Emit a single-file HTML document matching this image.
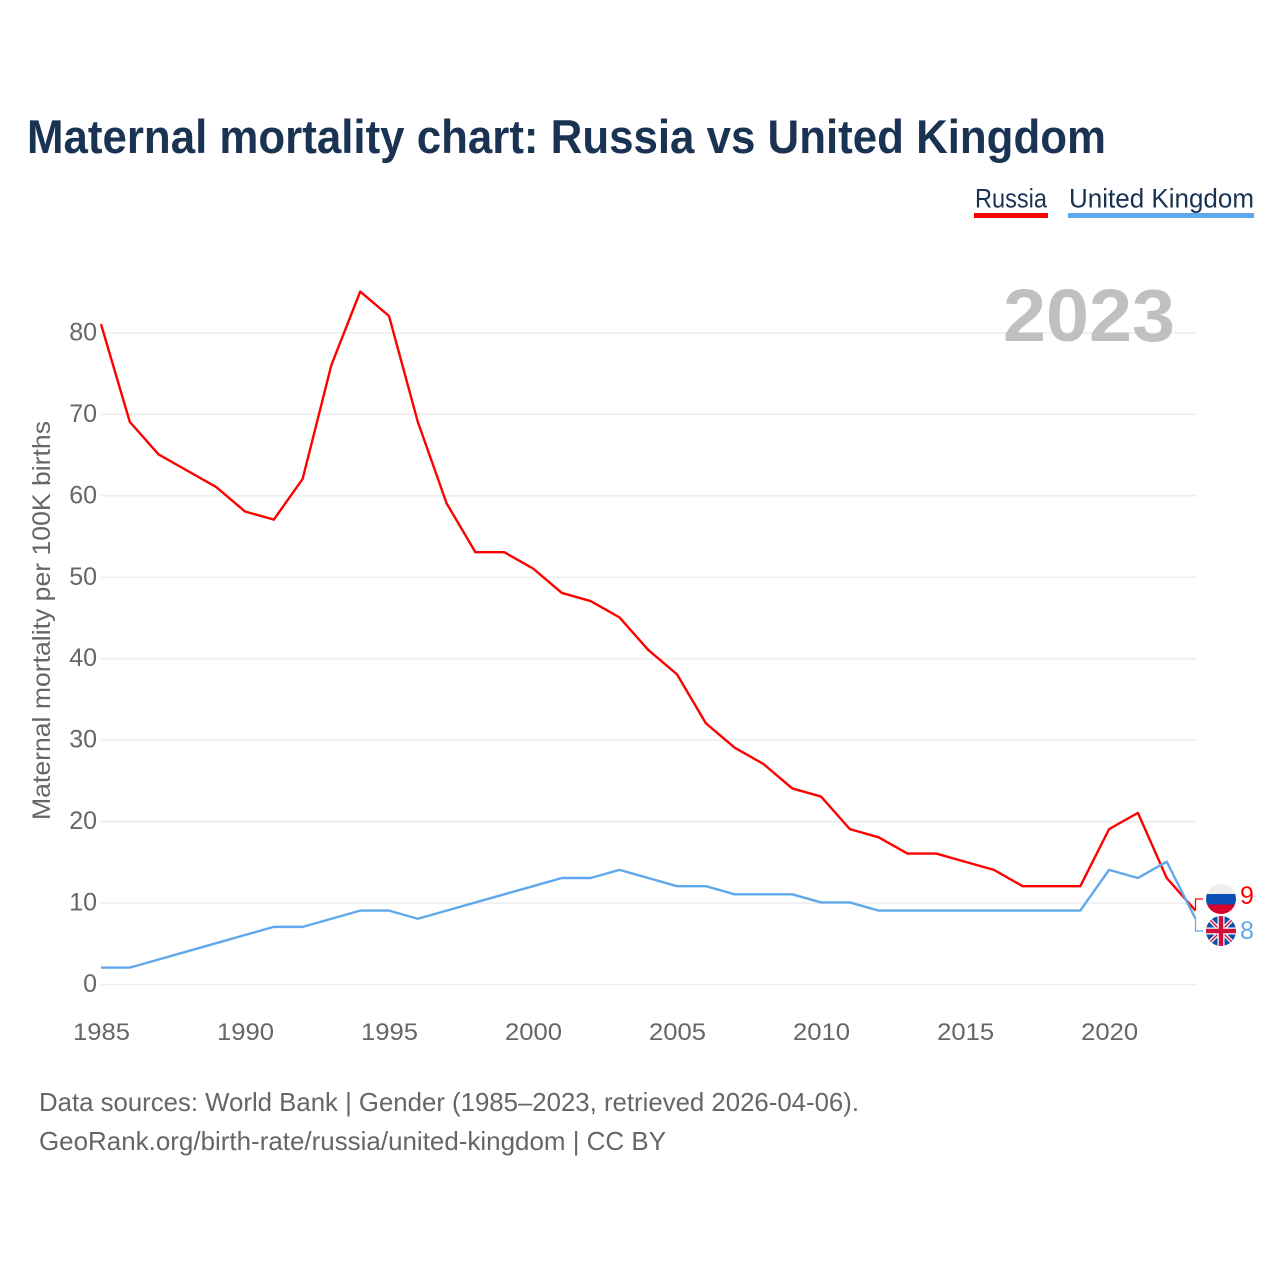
<!DOCTYPE html>
<html>
<head>
<meta charset="utf-8">
<title>Maternal mortality chart: Russia vs United Kingdom</title>
<style>
html,body{margin:0;padding:0;background:#fff;width:1280px;height:1280px;overflow:hidden}
svg{display:block;font-family:"Liberation Sans",sans-serif}
</style>
</head>
<body>
<svg id="chart" width="1280" height="1280" viewBox="0 0 1280 1280" xmlns="http://www.w3.org/2000/svg">
  <defs>
    <clipPath id="clip-ru"><circle cx="1221" cy="899" r="15"/></clipPath>
    <clipPath id="clip-uk"><circle cx="1221" cy="931" r="15"/></clipPath>
  </defs>
  <rect width="1280" height="1280" fill="#fff"/>
  <text x="27" y="153" font-size="47" font-weight="700" fill="#1a3353" textLength="1079" lengthAdjust="spacingAndGlyphs">Maternal mortality chart: Russia vs United Kingdom</text>

  <g>
    <text x="975" y="207.5" font-size="27" fill="#1a3353" textLength="72" lengthAdjust="spacingAndGlyphs">Russia</text>
    <rect x="974" y="213" width="74" height="5" fill="#ff0000"/>
  </g>
  <g>
    <text x="1069" y="207.5" font-size="27" fill="#1a3353" textLength="185" lengthAdjust="spacingAndGlyphs">United Kingdom</text>
    <rect x="1068" y="213" width="186" height="5" fill="#5fa8ec"/>
  </g>

  <g id="grid"></g>
  <g id="yticks"></g>
  <g id="xticks"></g>

  <text transform="translate(50,820) rotate(-90)" font-size="25" fill="#666" textLength="399" lengthAdjust="spacingAndGlyphs">Maternal mortality per 100K births</text>
  <text x="1003" y="341" font-size="74" font-weight="700" fill="#c0c0c0" textLength="172" lengthAdjust="spacingAndGlyphs">2023</text>

  <path id="line-russia" fill="none" stroke="#ff0000" stroke-width="2.4" stroke-linejoin="round"/>
  <path id="line-uk" fill="none" stroke="#5fa8ec" stroke-width="2.4" stroke-linejoin="round"/>
  <path id="connector-russia" fill="none" stroke="#ff0000" stroke-width="1.2"/>
  <path id="connector-uk" fill="none" stroke="#5fa8ec" stroke-width="1.2"/>

  <g clip-path="url(#clip-ru)">
    <rect x="1206" y="884" width="30" height="10" fill="#eeeeee"/>
    <rect x="1206" y="894" width="30" height="10.5" fill="#0a50b4"/>
    <rect x="1206" y="904.5" width="30" height="10" fill="#d9002b"/>
  </g>
  <g clip-path="url(#clip-uk)">
    <rect x="1206" y="916" width="30" height="30" fill="#0a50a8"/>
    <path d="M1206 916L1236 946M1236 916L1206 946" stroke="#fff" stroke-width="4"/>
    <path d="M1206 916L1236 946M1236 916L1206 946" stroke="#d0103a" stroke-width="1.5"/>
    <path d="M1221 916V946M1206 931H1236" stroke="#fff" stroke-width="7"/>
    <path d="M1221 916V946M1206 931H1236" stroke="#d0103a" stroke-width="4.5"/>
  </g>
  <text id="value-russia" x="1240" y="904" font-size="25" fill="#ff0000"></text>
  <text id="value-uk" x="1240" y="939" font-size="25" fill="#5fa8ec"></text>

  <text x="39" y="1111" font-size="26" fill="#666" textLength="820" lengthAdjust="spacingAndGlyphs">Data sources: World Bank | Gender (1985–2023, retrieved 2026-04-06).</text>
  <text x="39" y="1150" font-size="26" fill="#666" textLength="627" lengthAdjust="spacingAndGlyphs">GeoRank.org/birth-rate/russia/united-kingdom | CC BY</text>
</svg>
<script>
const years = [1985,1986,1987,1988,1989,1990,1991,1992,1993,1994,1995,1996,1997,1998,1999,2000,2001,2002,2003,2004,2005,2006,2007,2008,2009,2010,2011,2012,2013,2014,2015,2016,2017,2018,2019,2020,2021,2022,2023];
const russiaValues = [81,69,65,63,61,58,57,62,76,85,82,69,59,53,53,51,48,47,45,41,38,32,29,27,24,23,19,18,16,16,15,14,12,12,12,19,21,13,9];
const ukValues = [2,2,3,4,5,6,7,7,8,9,9,8,9,10,11,12,13,13,14,13,12,12,11,11,11,10,10,9,9,9,9,9,9,9,9,14,13,15,8];
const yTickValues = [0,10,20,30,40,50,60,70,80];
const xTickValues = [1985,1990,1995,2000,2005,2010,2015,2020];

const NS = 'http://www.w3.org/2000/svg';
function xScale(year){ return 101 + (year - 1985) * (1195.5 - 101) / 38; }
function yScale(value){ return 984.5 - value * 8.145; }
function lineY(value){ return yScale(value) - 0.6; }
function linePath(values){
  return values.map(function(v, i){
    return (i ? 'L' : 'M') + xScale(years[i]).toFixed(2) + ' ' + lineY(v).toFixed(2);
  }).join('');
}

const grid = document.getElementById('grid');
const yTicks = document.getElementById('yticks');
const xTicks = document.getElementById('xticks');

yTickValues.forEach(function(v){
  const line = document.createElementNS(NS, 'line');
  
  
  line.setAttribute('x1', 101);
  line.setAttribute('x2', 1196);
  line.setAttribute('y1', yScale(v));
  line.setAttribute('y2', yScale(v));
  line.setAttribute('stroke', '#eeeeee');
  line.setAttribute('stroke-width', 1.6);
  grid.appendChild(line);

  const label = document.createElementNS(NS, 'text');
  
  
  label.setAttribute('x', 97);
  label.setAttribute('y', yScale(v) + 7.5);
  label.setAttribute('text-anchor', 'end');
  label.setAttribute('font-size', 25);
  label.setAttribute('fill', '#666');
  label.textContent = v;
  yTicks.appendChild(label);
});

xTickValues.forEach(function(y){
  const label = document.createElementNS(NS, 'text');
  
  
  label.setAttribute('x', xScale(y) + 0.5);
  label.setAttribute('y', 1040);
  label.setAttribute('text-anchor', 'middle');
  label.setAttribute('font-size', 24);
  label.setAttribute('textLength', 57);
  label.setAttribute('lengthAdjust', 'spacingAndGlyphs');
  label.setAttribute('fill', '#666');
  label.textContent = y;
  xTicks.appendChild(label);
});

document.getElementById('line-russia').setAttribute('d', linePath(russiaValues));
document.getElementById('line-uk').setAttribute('d', linePath(ukValues));

const lastYearX = xScale(years[years.length - 1]);
const lastRussia = russiaValues[russiaValues.length - 1];
const lastUk = ukValues[ukValues.length - 1];
document.getElementById('connector-russia').setAttribute('d', 'M' + lastYearX + ' ' + lineY(lastRussia) + 'V899H1203');
document.getElementById('connector-uk').setAttribute('d', 'M' + lastYearX + ' ' + lineY(lastUk) + 'V931H1203');
document.getElementById('value-russia').textContent = lastRussia;
document.getElementById('value-uk').textContent = lastUk;
</script>
</body>
</html>
